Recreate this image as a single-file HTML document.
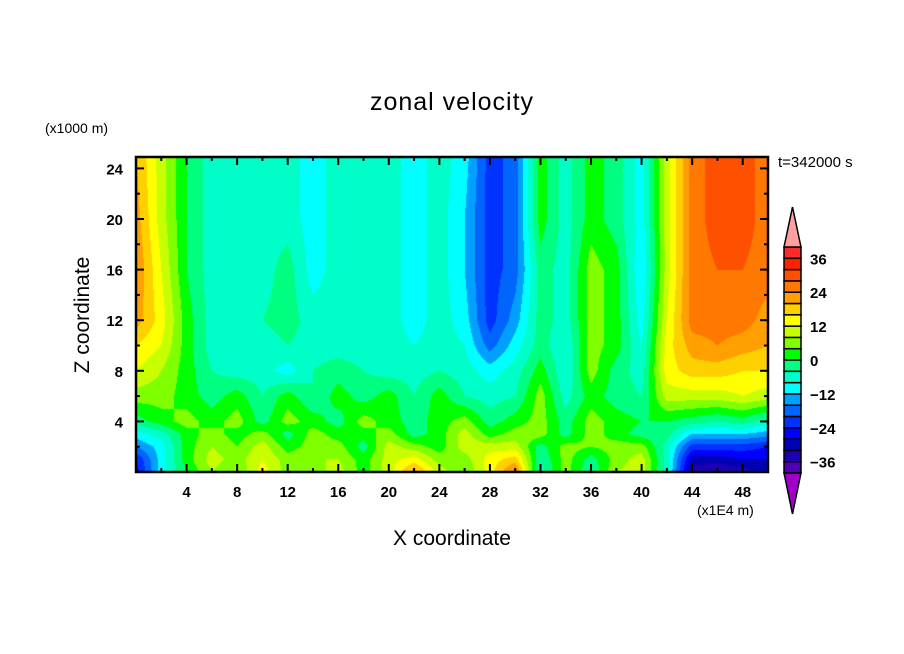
<!DOCTYPE html>
<html><head><meta charset="utf-8">
<style>
body{margin:0;background:#fff;width:904px;height:654px;overflow:hidden;position:relative;font-family:"Liberation Sans",sans-serif}
.t{position:absolute;white-space:nowrap;color:#000}
</style></head><body>
<div class="t" style="left:0;width:904px;text-align:center;top:88px;font-size:25px;letter-spacing:1px">zonal velocity</div>
<div class="t" style="left:45px;top:120px;font-size:14px">(x1000 m)</div>
<div class="t" style="left:778px;top:154px;font-size:15px">t=342000 s</div>
<div class="t" style="left:83px;top:315px;font-size:21px;transform:translate(-50%,-50%) rotate(-90deg)">Z coordinate</div>
<div class="t" style="left:0;width:904px;text-align:center;top:527px;font-size:21px">X coordinate</div>
<div class="t" style="left:697px;top:502px;font-size:14px">(x1E4 m)</div>
<canvas id="cv" width="632" height="315" style="position:absolute;left:136px;top:157px"></canvas>
<svg id="sv" width="904" height="654" style="position:absolute;left:0;top:0"></svg>
<script>
const xNodes=[0,2,4,6,8,10,12,14,16,18,20,22,24,26,28,30,32,34,36,38,40,42,44,46,48,50];
const zNodes=[0,1,2,3,4,6,8,10,12,16,20,25];
const row0=[-26,-10,0,8,4,14,6,6,10,2,10,22,10,4,14,26,-6,6,-4,8,10,-6,-34,-36,-34,-30];
const row1=[-24,-10,2,10,6,12,6,8,8,2,10,14,6,6,14,18,-4,6,-2,6,10,-6,-30,-30,-28,-28];
const row2=[-16,-10,2,8,4,10,2,6,6,-2,10,6,2,10,10,10,-2,6,4,6,6,-6,-22,-22,-22,-24];
const row3=[-10,-6,2,6,2,6,-2,6,2,2,6,-2,2,10,2,6,6,-2,6,2,-2,-2,-12,-12,-12,-14];
const row4=[-2,2,6,2,6,-2,6,2,-2,6,2,-2,2,6,-2,2,6,-2,6,2,0,0,-2,-4,-2,-6];
const row6=[6,6,2,-2,2,-4,2,-4,2,-2,2,-4,2,-4,-6,-4,6,-6,2,-2,-4,10,10,10,12,10];
const row8=[12,8,2,-4,-6,-6,-10,-4,-2,-4,-6,-6,-4,-6,-10,-6,2,-8,6,-2,-6,14,18,18,16,16];
const row10=[16,12,2,-6,-4,-6,-4,-6,-6,-6,-6,-8,-6,-8,-18,-10,-2,-8,6,2,-8,14,22,24,22,20];
const row12=[22,14,2,-6,-6,-4,-2,-6,-6,-6,-6,-10,-6,-10,-22,-14,-2,-6,6,2,-10,12,26,26,26,22];
const row16=[24,12,0,-6,-6,-6,-2,-10,-6,-6,-6,-10,-6,-12,-22,-18,-2,-6,6,2,-12,10,26,28,28,26];
const row20=[22,10,0,-6,-6,-6,-6,-10,-6,-6,-6,-10,-6,-12,-22,-18,2,-6,2,-2,-10,10,26,30,30,26];
const row25=[20,10,0,-6,-8,-6,-6,-10,-6,-6,-6,-10,-6,-10,-22,-18,2,-6,2,-2,-10,10,26,30,30,26];
const grid=[row0,row1,row2,row3,row4,row6,row8,row10,row12,row16,row20,row25];
const levels=[-40,-36,-32,-28,-24,-20,-16,-12,-8,-4,0,4,8,12,16,20,24,28,32,36,40];
const colors=['#a000c8','#5000b4','#1e00b4','#0000b4','#0000ff','#0032ff','#0064ff','#00a0ff','#00ffff','#00ffc8','#00ff80','#00ff00','#80ff00','#c8ff00','#ffff00','#ffd000','#ffa000','#ff7800','#ff5000','#ff2000','#ff2a2a','#ffa0a0'];
const xTicks=[4,8,12,16,20,24,28,32,36,40,44,48];
const yTicks=[4,8,12,16,20,24];
const cbLabels=[-36,-24,-12,0,12,24,36];

const X0=136,X1=768,Y0=157,Y1=472,XMAX=50,ZMAX=24.9;
const sx=v=>X0+(X1-X0)*v/XMAX, sz=v=>Y1-(Y1-Y0)*v/ZMAX;
function idx(arr,v){for(let i=0;i<arr.length-1;i++)if(v<=arr[i+1])return i;return arr.length-2;}
function val(x,z){const i=idx(xNodes,x),j=idx(zNodes,z);
 const tx=(x-xNodes[i])/(xNodes[i+1]-xNodes[i]),tz=(z-zNodes[j])/(zNodes[j+1]-zNodes[j]);
 const a=grid[j][i],b=grid[j][i+1],c=grid[j+1][i],d=grid[j+1][i+1];
 return (a*(1-tx)+b*tx)*(1-tz)+(c*(1-tx)+d*tx)*tz;}
function rgb(h){return [parseInt(h.substr(1,2),16),parseInt(h.substr(3,2),16),parseInt(h.substr(5,2),16)];}
const crgb=colors.map(rgb);
function band(v){let k=0;while(k<levels.length&&v>=levels[k])k++;return k;}
const cv=document.getElementById('cv'),ctx=cv.getContext('2d');
const W=cv.width,H=cv.height,img=ctx.createImageData(W,H);
for(let py=0;py<H;py++){const z=ZMAX*(H-py-0.5)/H;
 for(let px=0;px<W;px++){const x=XMAX*(px+0.5)/W;const c=crgb[band(val(x,z))];const o=(py*W+px)*4;
  img.data[o]=c[0];img.data[o+1]=c[1];img.data[o+2]=c[2];img.data[o+3]=255;}}
ctx.putImageData(img,0,0);

const NS='http://www.w3.org/2000/svg',sv=document.getElementById('sv');
function el(t,a){const e=document.createElementNS(NS,t);for(const k in a)e.setAttribute(k,a[k]);sv.appendChild(e);return e;}
let f=el('rect',{x:X0,y:Y0,width:X1-X0,height:Y1-Y0,fill:'none',stroke:'#000','stroke-width':2.5});


for(let v=2;v<XMAX;v+=2){const x=sx(v),L=v%4===0?8:4;
 el('line',{x1:x,y1:Y1,x2:x,y2:Y1-L,stroke:'#000','stroke-width':2});
 el('line',{x1:x,y1:Y0,x2:x,y2:Y0+L,stroke:'#000','stroke-width':2});}
for(let v=2;v<ZMAX;v+=2){const y=sz(v),L=v%4===0?8:4;
 el('line',{x1:X0,y1:y,x2:X0+L,y2:y,stroke:'#000','stroke-width':2});
 el('line',{x1:X1,y1:y,x2:X1-L,y2:y,stroke:'#000','stroke-width':2});}
xTicks.forEach(v=>{const t=el('text',{x:sx(v),y:497,'text-anchor':'middle','font-size':15,'font-weight':'bold','font-family':'Liberation Sans, sans-serif'});t.textContent=v;
 
 });
yTicks.forEach(v=>{const t=el('text',{x:123,y:sz(v)+6,'text-anchor':'end','font-size':15,'font-weight':'bold','font-family':'Liberation Sans, sans-serif'});t.textContent=v;
 
 });
const CX0=784,CX1=801,CT=247,CB=473,n=levels.length-1,bh=(CB-CT)/n;
const cy=v=>CB-(v-levels[0])/(levels[n]-levels[0])*(CB-CT);
for(let k=0;k<n;k++){const r=el('rect',{x:CX0,y:cy(levels[k+1]),width:CX1-CX0,height:bh,fill:colors[k+1],stroke:'#000','stroke-width':1.5});
 
 }
let tp=el('polygon',{points:`${CX0},${CT} ${CX1},${CT} ${(CX0+CX1)/2},207`,fill:colors[colors.length-1],stroke:'#000','stroke-width':1.5});


let bp=el('polygon',{points:`${CX0},${CB} ${CX1},${CB} ${(CX0+CX1)/2},514`,fill:colors[0],stroke:'#000','stroke-width':1.5});


cbLabels.forEach(v=>{const t=el('text',{x:810,y:cy(v)+6,'font-size':15,'font-weight':'bold','font-family':'Liberation Sans, sans-serif'});t.textContent=(v<0?'\u2212'+(-v):v);
 
 });
</script>
</body></html>
